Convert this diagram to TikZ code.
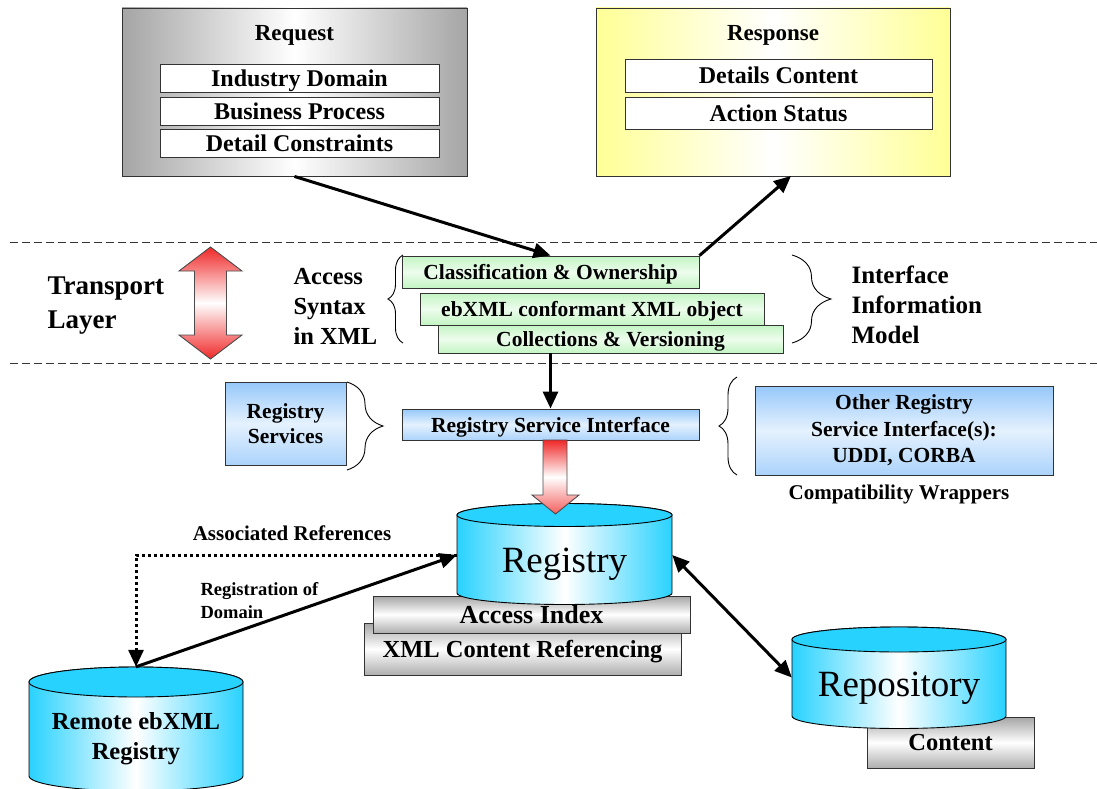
\documentclass[tikz,border=0pt]{standalone}
\usepackage{fontspec}
\setmainfont{Liberation Serif}
\usetikzlibrary{arrows.meta,decorations.pathreplacing}
\definecolor{cyanC}{RGB}{40,210,255}
\definecolor{grayC}{RGB}{165,165,165}
\definecolor{yelC}{RGB}{255,255,150}
\definecolor{greenC}{RGB}{195,245,195}
\definecolor{blueC}{RGB}{150,200,250}
\definecolor{redC}{RGB}{240,40,40}
\newcommand{\fnt}[1]{\fontsize{#1}{#1}\selectfont\bfseries}
\newcommand{\fntb}[2]{\fontsize{#1}{#2}\selectfont\bfseries}
\newcommand{\mycyl}[6]{% left, right, ytop, ybot, rx, ry
  \path[draw=black,line width=0.9pt,left color=cyanC,right color=cyanC,middle color=white]
    (#1,#3) -- (#1,#4) arc[start angle=180,end angle=0,x radius=#5,y radius=#6]
    -- (#2,#3) arc[start angle=0,end angle=-180,x radius=#5,y radius=#6] -- cycle;
  \path[draw=black,line width=0.9pt,fill=cyanC] ({(#1+#2)/2},#3) ellipse[x radius=#5,y radius=#6];
}
\begin{document}
\begin{tikzpicture}[x=1pt,y=-1pt,
  bx/.style={draw=black!80,line width=0.9pt,inner sep=0pt},
  whitebox/.style={bx,fill=white,font=\fnt{24},text depth=0pt},
  greenbox/.style={bx,top color=greenC,bottom color=greenC,middle color=greenC!30!white,font=\fnt{21.5},text depth=0pt},
  bluebox/.style={bx,top color=blueC,bottom color=blueC!80,middle color=blueC!25!white,font=\fnt{21.5}},
  graybox/.style={bx,top color=grayC,bottom color=grayC!90,middle color=white},
  conn/.style={line width=3pt,-{Triangle[length=17pt,width=15pt]}},
  dconn/.style={line width=3pt,{Triangle[length=17pt,width=15pt]}-{Triangle[length=17pt,width=15pt]}},
  brc/.style={draw=black,line width=0.9pt,decorate},
  sep/.style={draw=black!80,line width=0.9pt,dash pattern=on 8pt off 4pt},
  cylnode/.style={inner sep=0pt,draw=none}
]
\useasboundingbox (0,0) rectangle (1097,789);

% dashed separators
\coordinate (d1a) at (10,242); \coordinate (d1b) at (1097,242);
\coordinate (d2a) at (10,363); \coordinate (d2b) at (1097,363);
\draw[sep] (d1a) -- (d1b);
\draw[sep] (d2a) -- (d2b);

% Request
\node[bx,minimum width=345,minimum height=168,left color=grayC,right color=grayC,middle color=white] (request) at (294.5,92) {};
\node[font=\fnt{23}] (reqt) at (294.5,35) {Request};
\node[whitebox,minimum width=279,minimum height=28] (ind) at (299.5,78) {Industry Domain};
\node[whitebox,minimum width=279,minimum height=28] (bus) at (299.5,111) {Business Process};
\node[whitebox,minimum width=279,minimum height=28] (det) at (299.5,143) {Detail Constraints};

% Response
\node[bx,minimum width=354,minimum height=168,left color=yelC,right color=yelC,middle color=white] (response) at (773,92) {};
\node[font=\fnt{23}] (rest) at (773,35) {Response};
\node[whitebox,minimum width=307,minimum height=33] (dcon) at (778.5,75.5) {Details Content};
\node[whitebox,minimum width=307,minimum height=32] (act) at (778.5,113) {Action Status};

% Transport layer
\node[font=\fntb{27}{34},align=left,anchor=west] (tl) at (44,306) {Transport\\Layer};
\path[draw=black!70,line width=0.9pt,top color=redC,bottom color=redC,middle color=white]
  (210.5,247) -- (242,271) -- (226.5,271) -- (226.5,335) -- (242,335) -- (210.5,359)
  -- (179,335) -- (194.5,335) -- (194.5,271) -- (179,271) -- cycle;

% Access syntax
\node[font=\fntb{24.5}{30},align=left,anchor=west] (acc) at (290,306) {Access\\Syntax\\in XML};
\coordinate (ab1) at (403,343); \coordinate (ab2) at (403,255);
\draw[brc,decoration={brace,amplitude=15pt}] (ab1) -- (ab2);

% green boxes
\node[greenbox,minimum width=297,minimum height=32] (class) at (550.5,272) {Classification \& Ownership};
\node[greenbox,minimum width=344,minimum height=32] (ebx) at (592,309) {ebXML conformant XML object};
\node[greenbox,minimum width=345,minimum height=28] (coll) at (610.5,339) {Collections \& Versioning};

% Interface info model
\coordinate (ib1) at (792,255); \coordinate (ib2) at (792,343);
\draw[brc,decoration={brace,amplitude=39pt}] (ib1) -- (ib2);
\node[font=\fntb{25}{30},align=left,anchor=west] (iim) at (848,305) {Interface\\Information\\Model};

% arrows request/response
\coordinate (respin) at (791,176);
\draw[conn] (request.south) -- (class.north);
\draw[conn] (class.north east) -- (respin);

% Registry service interface
\node[bluebox,minimum width=297,minimum height=31,text depth=0pt] (rsi) at (550.5,424.5) {Registry Service Interface};
\draw[conn] (rsi.north |- coll.south) -- (rsi.north);
\node[bluebox,minimum width=121,minimum height=83,align=center,font=\fntb{21.5}{25}] (rs) at (285.5,423.5) {Registry\\Services};
\coordinate (rb1) at (347,382); \coordinate (rb2) at (347,470);
\draw[brc,decoration={brace,amplitude=36pt}] (rb1) -- (rb2);
\coordinate (ob1) at (737,475); \coordinate (ob2) at (737,377);
\draw[brc,decoration={brace,amplitude=18pt}] (ob1) -- (ob2);
\node[bluebox,minimum width=298,minimum height=89,align=center,font=\fntb{21.5}{26.5}] (other) at (904,430.5) {Other Registry\\Service Interface(s):\\UDDI, CORBA};
\node[font=\fnt{21}] (compat) at (899,494) {Compatibility Wrappers};

% Registry stack
\node[graybox,minimum width=317,minimum height=52] (xmlbox) at (522.5,649) {};
\node[font=\fnt{24.5}] (xmltxt) at (522.5,652) {XML Content Referencing};
\node[graybox,minimum width=317,minimum height=37,font=\fnt{26},text depth=0pt] (acidx) at (531.5,614.5) {Access Index};
\mycyl{457}{672}{515}{593}{107.5}{11.5}
\node[cylnode,minimum width=215,minimum height=100] (registry) at (564.5,555) {};
\node[font=\fontsize{37}{37}\selectfont] (regt) at (564.5,564.5) {Registry};

% red block arrow
\path[draw=black!70,line width=0.9pt,top color=redC,bottom color=redC!75!white,middle color=white]
  (543,440) -- (567,440) -- (567,495) -- (579,495) -- (555.5,514) -- (532,495) -- (543,495) -- cycle;

% Remote registry
\mycyl{29}{243}{682}{776}{107}{15}
\node[cylnode,minimum width=214,minimum height=122] (remote) at (136,728) {};
\node[font=\fntb{24.5}{30},align=center] (remt) at (136,739) {Remote ebXML\\Registry};

% Repository
\node[graybox,minimum width=167,minimum height=51,font=\fnt{24.5}] (content) at (950.5,742.5) {\raisebox{-3pt}{Content}};
\mycyl{792}{1006}{639.5}{716}{107}{12.5}
\node[cylnode,minimum width=214,minimum height=101] (repository) at (899,677.5) {};
\node[font=\fontsize{37}{37}\selectfont] (rept) at (899,688) {Repository};

% connectors
\draw[line width=3pt,dash pattern=on 3pt off 3pt,-{Triangle[length=17pt,width=15pt]}]
  (registry.west) -- (remote.north |- registry.west) -- (remote.north);
\draw[conn] (remote.north) -- (registry.west);
\draw[dconn] (registry.east) -- (repository.west);
\node[font=\fnt{21}] (assoc) at (292,533) {Associated References};
\node[font=\fntb{18.5}{23},align=left,anchor=west] (regdom) at (197,601) {Registration of\\Domain};
\end{tikzpicture}
\end{document}
